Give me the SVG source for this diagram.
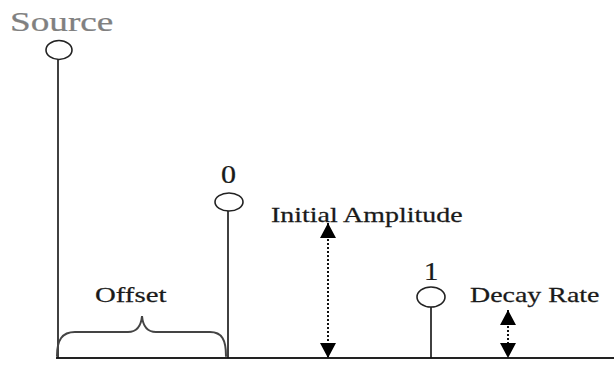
<svg xmlns="http://www.w3.org/2000/svg" width="614" height="365" viewBox="0 0 614 365">
<style>
  .t{font-family:"Liberation Serif","Times New Roman",serif;fill:#1a1a1a;stroke:#1a1a1a;stroke-width:0.25}
  .stem{stroke:#111;stroke-width:1.6;fill:none}
  .node{fill:#fff;stroke:#222;stroke-width:1.6}
  .dot{stroke:#111;stroke-width:2;stroke-dasharray:2 2;fill:none}
  .brace{stroke:#444;stroke-width:2;fill:none;stroke-linecap:round}
</style>
<defs>
  <marker id="ah" viewBox="0 0 15 16" refX="15" refY="8" markerWidth="15" markerHeight="16" markerUnits="userSpaceOnUse" orient="auto-start-reverse">
    <path d="M0,0 L15,8 L0,16 z" fill="#000"/>
  </marker>
</defs>
<rect width="614" height="365" fill="#fff"/>

<g id="connectors">
  <line x1="56" y1="358" x2="614" y2="358" stroke="#222" stroke-width="2"/>
  <line class="stem" x1="58" y1="59" x2="58" y2="358"/>
  <line class="stem" x1="228" y1="211" x2="228" y2="358"/>
  <line class="stem" x1="431" y1="307" x2="431" y2="358"/>
  <line class="dot" x1="328" y1="223" x2="328" y2="358" marker-start="url(#ah)" marker-end="url(#ah)"/>
  <line class="dot" x1="508" y1="310" x2="508" y2="358" marker-start="url(#ah)" marker-end="url(#ah)"/>
  <path class="brace" d="M57,356 C57,340 62,332 75,332 L128,332 C136,332 141,327 142,316 C143,327 148,332 156,332 L210,332 C222,332 226,340 226,356"/>
</g>

<g id="source">
  <ellipse class="node" cx="59" cy="50" rx="13" ry="9.5"/>
  <text class="t" transform="translate(10,31) scale(1.33,1)" font-size="28" style="fill:#808080;stroke:#808080">Source</text>
</g>

<g id="node0">
  <ellipse class="node" cx="229" cy="202" rx="14" ry="9"/>
  <text class="t" transform="translate(221,183) scale(1.2,1)" font-size="25">0</text>
</g>

<g id="node1">
  <ellipse class="node" cx="431" cy="297" rx="14" ry="10"/>
  <text class="t" transform="translate(424,280) scale(1.15,1)" font-size="25">1</text>
</g>

<g id="label-initial">
  <text class="t" transform="translate(271,222) scale(1.27,1)" font-size="22">Initial Amplitude</text>
</g>

<g id="label-decay">
  <text class="t" transform="translate(470,302) scale(1.27,1)" font-size="22">Decay Rate</text>
</g>

<g id="label-offset">
  <text class="t" transform="translate(95,302) scale(1.31,1)" font-size="22">Offset</text>
</g>
</svg>
